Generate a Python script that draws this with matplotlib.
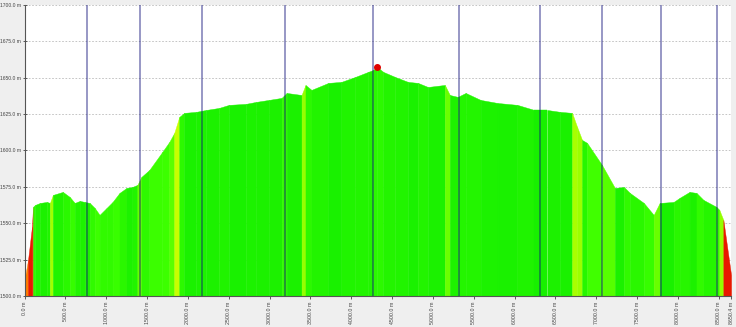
import numpy as np
import matplotlib
matplotlib.use("Agg")
import matplotlib.pyplot as plt
from matplotlib.colors import LinearSegmentedColormap, Normalize

# profile: distance (m), elevation (m)
dist = [0, 43, 91, 104, 128, 189, 274, 311, 347, 469, 554, 615, 676, 737, 798, 859,
        919, 1005, 1078, 1163, 1248, 1321, 1382, 1431, 1528, 1687, 1772, 1833, 1894,
        1955, 2101, 2222, 2381, 2503, 2710, 2831, 2990, 3148, 3209, 3392, 3440, 3513,
        3720, 3879, 4049, 4208, 4269, 4318, 4391, 4537, 4695, 4817, 4939, 5146, 5207,
        5304, 5401, 5584, 5791, 6034, 6241, 6400, 6558, 6704, 6765, 6826, 6887, 7070,
        7228, 7338, 7411, 7582, 7703, 7776, 7947, 8020, 8142, 8227, 8312, 8471, 8507,
        8556, 8650.4]
elev = [1511, 1524.7, 1547.4, 1561.2, 1562.5, 1563.9, 1564.6, 1563.9, 1569.4, 1571.5,
        1568.0, 1563.9, 1565.3, 1564.6, 1563.9, 1560.5, 1555.7, 1560.5, 1564.6, 1570.8,
        1574.2, 1574.9, 1576.3, 1581.8, 1586.6, 1599.0, 1605.8, 1612.0, 1623.0, 1625.8,
        1626.5, 1627.8, 1629.2, 1631.3, 1632.0, 1633.3, 1634.7, 1636.1, 1639.5, 1638.1,
        1645.0, 1641.6, 1646.4, 1647.1, 1650.5, 1654.0, 1655.3, 1657.4, 1654.0, 1650.5,
        1647.1, 1646.4, 1643.6, 1645.0, 1638.1, 1636.8, 1639.5, 1634.7, 1632.6, 1631.3,
        1627.8, 1627.8, 1626.5, 1625.8, 1616.2, 1607.2, 1605.2, 1590.0, 1574.2, 1574.9,
        1570.8, 1563.9, 1555.7, 1563.9, 1564.6, 1567.4, 1571.5, 1570.8, 1566.0, 1561.2,
        1559.1, 1552.2, 1514.4]

# waypoint markers
waypoints = [761, 1419, 2174, 3185, 4269, 5316, 6315, 7070, 7788, 8483]
xticks = [0, 500, 1000, 1500, 2000, 2500, 3000, 3500, 4000, 4500, 5000, 5500,
          6000, 6500, 7000, 7500, 8000, 8500, 8650.4]
yticks = [1500, 1525, 1550, 1575, 1600, 1625, 1650, 1675, 1700]

dist = np.array(dist)
elev = np.array(elev)

plt.rcParams["font.family"] = ["Liberation Sans", "DejaVu Sans"]

fig = plt.figure(figsize=(7.36, 3.27), dpi=100, facecolor="#efefef")
ax = fig.add_axes([0.0333, 0.095, 0.960, 0.89])
ax.set_facecolor("white")

cmap = LinearSegmentedColormap.from_list(
    "slope", [(0, "#18f000"), (0.2, "#3cff00"), (0.45, "#c8ff00"),
              (0.65, "#ffd000"), (0.8, "#ff7a00"), (1, "#e81800")])
norm = Normalize(0, 40)

for i in range(len(dist) - 1):
    slope = abs(elev[i + 1] - elev[i]) / (dist[i + 1] - dist[i]) * 100
    ax.fill_between(dist[i:i + 2], 1500, elev[i:i + 2],
                    color=cmap(norm(slope)), lw=0.3, ec=cmap(norm(slope)), zorder=2)

for w in waypoints:
    ax.axvline(w, color="#10107a", alpha=0.55, lw=1.1, zorder=3)

imax = np.argmax(elev)
ax.plot(dist[imax], elev[imax], "o", color="#e00000", ms=4, zorder=4)

ax.set_xlim(0, 8650.4)
ax.set_ylim(1500, 1700)
ax.set_yticks(yticks)
ax.set_yticklabels(["%.1f m" % v for v in yticks], fontsize=3.6, color="#333333")
ax.set_xticks(xticks)
ax.set_xticklabels(["%.1f m" % v for v in xticks], fontsize=3.8, rotation=90,
                   color="#333333")
ax.tick_params(length=2.5, width=0.6, colors="#444444", pad=1.5)
ax.tick_params(axis="y", direction="inout", length=3, pad=1)
ax.grid(axis="y", ls=(0, (2, 2)), color="#bbbbbb", lw=0.6, zorder=1)
ax.set_axisbelow(True)
for s in ["top", "right"]:
    ax.spines[s].set_visible(False)
ax.spines["left"].set_color("#555555")
ax.spines["bottom"].set_color("#555555")

fig.savefig("out.png", dpi=100, facecolor=fig.get_facecolor())
